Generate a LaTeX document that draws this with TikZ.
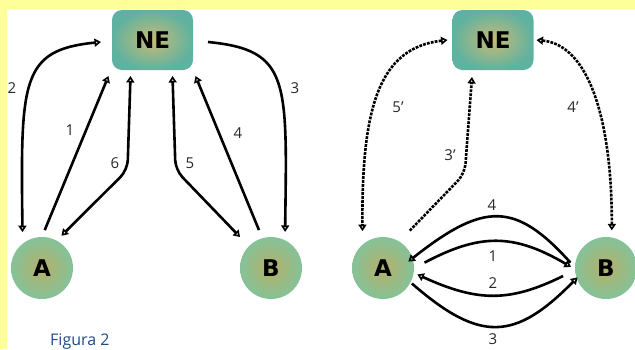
\documentclass[tikz,border=0pt]{standalone}
\usepackage{fontspec}
\setmainfont{Open Sans}
\newfontfamily\nodefont{DejaVu Sans}
\usetikzlibrary{arrows.meta}
\definecolor{bgyellow}{RGB}{255,255,153}
\definecolor{figblue}{RGB}{35,75,140}
\definecolor{lblgray}{RGB}{40,40,40}
\definecolor{necenter}{RGB}{198,186,118}
\definecolor{needge}{RGB}{95,178,160}
\definecolor{ccenter}{RGB}{182,176,106}
\definecolor{cedge}{RGB}{132,194,152}
\begin{document}
\begin{tikzpicture}[x=1pt,y=-1pt,
  nebox/.style={rectangle, rounded corners=10pt, minimum width=81pt, minimum height=60pt,
    inner color=necenter, outer color=needge, inner sep=0pt, outer sep=0pt,
    font=\nodefont\bfseries\fontsize{23}{23}\selectfont},
  station/.style={circle, minimum size=62pt, inner color=ccenter, outer color=cedge,
    inner sep=0pt, outer sep=0pt, font=\nodefont\bfseries\fontsize{23}{23}\selectfont},
  link/.style={line width=2.6pt, -{Triangle[open,length=6.5pt,width=8pt]}},
  duallink/.style={line width=2.6pt, {Triangle[open,length=6.5pt,width=8pt]}-{Triangle[open,length=6.5pt,width=8pt]}},
  dotlink/.style={dash pattern=on 2.8pt off 1.2pt},
  lbl/.style={text=lblgray, font=\fontsize{15}{15}\selectfont, inner sep=0pt}
]
\useasboundingbox (0,0) rectangle (635,349);
\clip (0,0) rectangle (635,349);
\fill[bgyellow] (0,0) rectangle (635,349);
\fill[white] (7,9) rectangle (635,349);

% ---------- left panel ----------
\node[nebox] (NE1) at (152.5,40) {NE};
\node[station] (A1) at (42,268) {A};
\node[station] (B1) at (271,268) {B};

\draw[link] ([yshift=7pt]A1.85) -- ([shift={(-44,6)}]NE1.south);
\draw[duallink] ([shift={(-11,2)}]NE1.west) .. controls +(-80,8) and +(-2,-152) .. ([shift={(-4,-9)}]A1.120);
\draw[link] ([shift={(15,2)}]NE1.east) .. controls +(82,8) and +(2,-152) .. ([shift={(1,-8)}]B1.65);
\draw[link] ([shift={(-4,-8)}]B1.105) -- ([shift={(43,6)}]NE1.south);
\draw[duallink, rounded corners=10pt] ([shift={(-22,6)}]NE1.south) -- ++(-3,94) -- ([shift={(3,-6)}]A1.58);
\draw[duallink, rounded corners=10pt] ([shift={(20,6)}]NE1.south) -- ++(3,94) -- ([shift={(-9,-9)}]B1.135);

\node[lbl] (l2) at (12,88) {2};
\node[lbl] (l3) at (295,88) {3};
\node[lbl] (l1) at (70,130) {1};
\node[lbl] (l4) at (238,133) {4};
\node[lbl] (l6) at (115,163) {6};
\node[lbl] (l5) at (190,163) {5};

\node[text=figblue, font=\fontsize{16}{16}\selectfont, anchor=base west, inner sep=0pt] (fig) at (50,345) {Figura 2};

% ---------- right panel ----------
\node[nebox] (NE2) at (493,40) {NE};
\node[station] (A2) at (383,268) {A};
\node[station] (B2) at (606,268) {B};

\draw[duallink, dotlink] ([shift={(-5,0)}]NE2.west) .. controls +(-68,8) and +(-1,-125) .. ([shift={(-5,-10)}]A2.120);
\draw[duallink, dotlink] ([shift={(3,0)}]NE2.east) .. controls +(52,5) and +(0,-112) .. ([shift={(1,-7)}]B2.81);
\draw[link, dotlink, rounded corners=10pt] ([shift={(9,-12)}]A2.55) -- ++(55,-57) -- ([shift={(-21,7)}]NE2.south);

\draw[link] ([shift={(-5,0)}]B2.170) .. controls +(-55,-61) and +(76,-60) .. ([shift={(-5,0)}]A2.12);
\draw[link] ([shift={(11,0)}]A2.10) .. controls +(55,-29) and +(-58,-34) .. ([shift={(-4,0)}]B2.178);
\draw[link] ([shift={(-13,0)}]B2.195) .. controls +(-53,26) and +(61,28) .. ([shift={(4,0)}]A2.-12);
\draw[link] ([shift={(2,0)}]A2.-30) .. controls +(68,59) and +(-63,64) .. ([shift={(2,4)}]B2.190);

\node[lbl] (r5) at (398,107) {5’};
\node[lbl] (r3) at (450,155) {3’};
\node[lbl] (r4) at (573,107) {4’};
\node[lbl] (rq4) at (492,205) {4};
\node[lbl] (rq1) at (493,256) {1};
\node[lbl] (rq2) at (493,283) {2};
\node[lbl] (rq3) at (493,339) {3};
\end{tikzpicture}
\end{document}
